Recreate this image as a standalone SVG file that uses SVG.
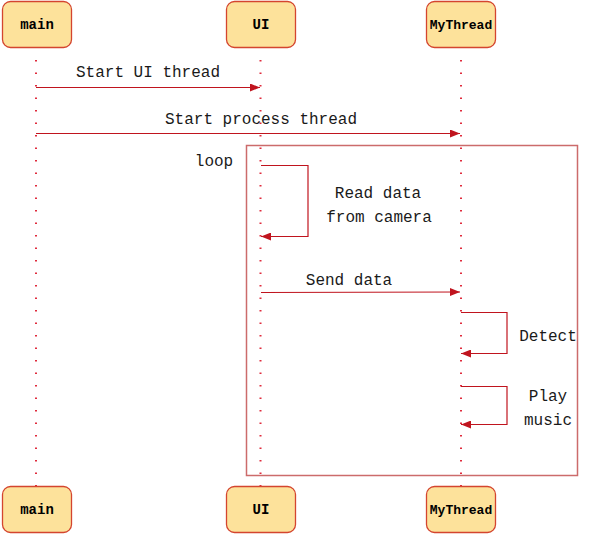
<svg xmlns="http://www.w3.org/2000/svg" width="590" height="534" viewBox="0 0 590 534">
<style>
.box{fill:#fde29b;stroke:#d4452f;stroke-width:1.3}
.bl{font-family:"Liberation Mono",monospace;font-weight:bold;font-size:14px;fill:#000;text-anchor:middle}
.bs{font-size:13px}
.life{stroke:#e02b3c;stroke-width:2;stroke-dasharray:1.5 11;fill:none}
.msg{stroke:#c0141e;stroke-width:1.2;fill:none}
.t{font-family:"Liberation Mono",monospace;font-size:16px;fill:#1a1a1a;text-anchor:middle}
.frame{fill:none;stroke:#cc6b6b;stroke-width:1.5}
</style>
<defs>
<marker id="ah" markerWidth="10" markerHeight="8" refX="10" refY="4" orient="auto" markerUnits="userSpaceOnUse">
<path d="M0,0 L10,4 L0,8 Z" fill="#c0141e"/>
</marker>
</defs>
<g id="frame-loop">
<rect class="frame" x="246.5" y="145.5" width="331" height="330"/>
<text class="t" x="214" y="166">loop</text>
</g>
<g id="connectors">
<line class="life" x1="36" y1="60" x2="36" y2="486"/>
<line class="life" x1="260.5" y1="60" x2="260.5" y2="486"/>
<line class="life" x1="461" y1="60" x2="461" y2="486"/>
<line class="msg" x1="36" y1="87.5" x2="260" y2="87.5" marker-end="url(#ah)"/>
<text class="t" x="148" y="77">Start UI thread</text>
<line class="msg" x1="36" y1="133.5" x2="460" y2="133.5" marker-end="url(#ah)"/>
<text class="t" x="261" y="124">Start process thread</text>
<polyline class="msg" points="261,165.5 308,165.5 308,236.5 261,236.5" marker-end="url(#ah)"/>
<text class="t" x="378" y="198">Read data</text>
<text class="t" x="379" y="222">from camera</text>
<line class="msg" x1="261" y1="292.5" x2="460" y2="292" marker-end="url(#ah)"/>
<text class="t" x="349" y="285">Send data</text>
<polyline class="msg" points="461,312.5 507,312.5 507,353.5 461,353.5" marker-end="url(#ah)"/>
<text class="t" x="548" y="341">Detect</text>
<polyline class="msg" points="461,386.5 507,386.5 507,424.5 461,424.5" marker-end="url(#ah)"/>
<text class="t" x="548" y="401">Play</text>
<text class="t" x="548" y="425">music</text>
</g>
<g id="main-top"><rect class="box" x="2.5" y="1.5" width="69" height="46" rx="8"/><text class="bl" x="37" y="29">main</text></g>
<g id="ui-top"><rect class="box" x="226.5" y="1.5" width="69" height="46" rx="8"/><text class="bl" x="261" y="29">UI</text></g>
<g id="mythread-top"><rect class="box" x="426.5" y="1.5" width="69" height="46" rx="8"/><text class="bl bs" x="461" y="29">MyThread</text></g>
<g id="main-bottom"><rect class="box" x="2.5" y="486.5" width="69" height="46" rx="8"/><text class="bl" x="37" y="514">main</text></g>
<g id="ui-bottom"><rect class="box" x="226.5" y="486.5" width="69" height="46" rx="8"/><text class="bl" x="261" y="514">UI</text></g>
<g id="mythread-bottom"><rect class="box" x="426.5" y="486.5" width="69" height="46" rx="8"/><text class="bl bs" x="461" y="514">MyThread</text></g>
</svg>
